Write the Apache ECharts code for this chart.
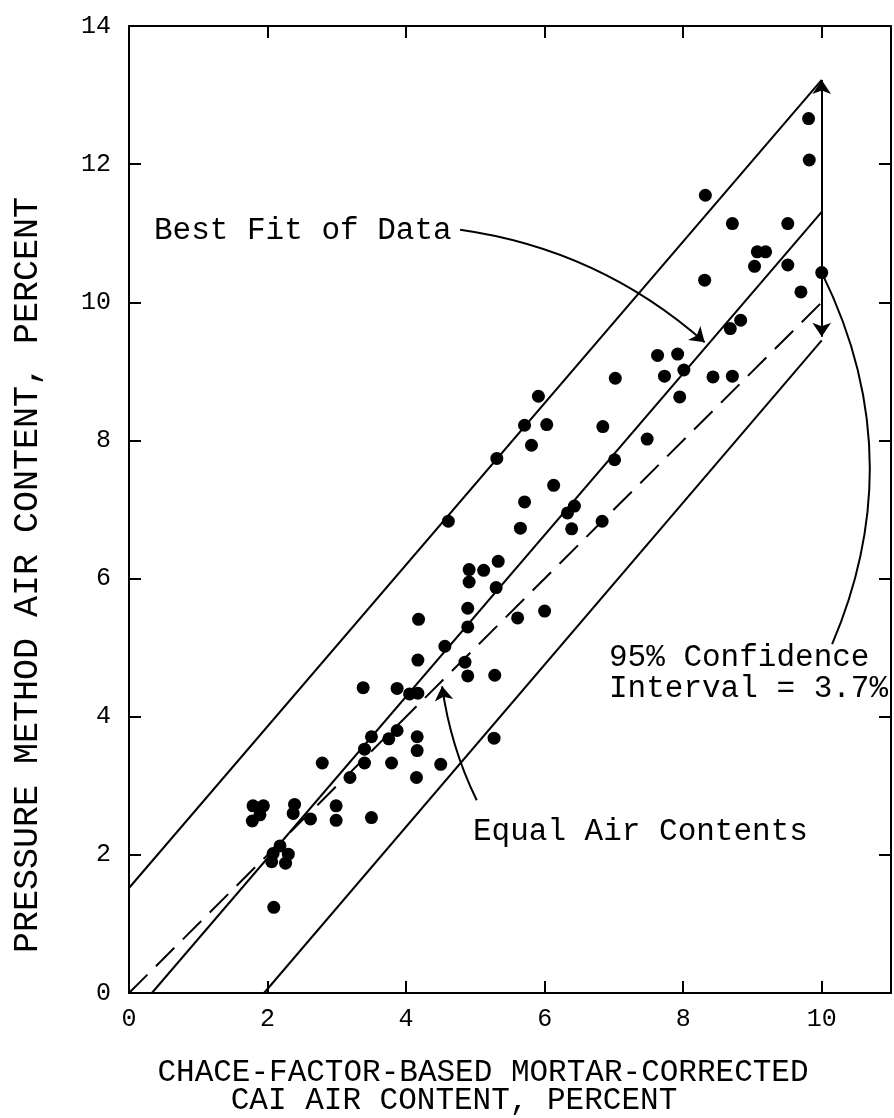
<!DOCTYPE html>
<html>
<head>
<meta charset="utf-8">
<script src="https://cdn.jsdelivr.net/npm/echarts@6/dist/echarts.min.js"></script>
<style>
  html, body { margin: 0; padding: 0; background: #fff; }
  #chart { width: 894px; height: 1118px; }
</style>
</head>
<body>
<div id="chart"></div>
<script>
// CAI air content (x) and pressure method air content (y), percent
const cai = [
  1.79, 1.94, 1.89, 1.78, 2.39, 2.37, 2.62, 2.99, 2.99, 3.50,
  2.18, 2.08, 2.06, 2.30, 2.26, 2.09, 2.79, 3.19, 3.40, 3.79,
  4.15, 3.40, 3.50, 3.75, 3.87, 4.16, 4.16, 3.38, 3.87, 4.05,
  4.17, 4.17, 4.50, 5.27,
  4.18, 4.56, 4.85, 4.89, 5.28, 4.89, 4.89, 4.91, 4.91, 5.12,
  5.33, 5.30, 5.61, 6.00, 4.61, 5.65, 5.71, 6.13, 5.31, 5.81,
  5.71, 6.03, 5.91, 6.33, 6.43, 6.39, 6.83, 6.84, 7.01, 7.02, 7.48,
  7.63, 7.92, 7.73, 8.01, 7.95, 8.43, 8.71, 8.68, 8.83, 8.31,
  8.32, 8.71, 9.03, 9.07, 9.19, 9.51, 9.51, 9.70, 9.81, 9.82, 10.0
]
const pressure = [
  2.71, 2.71, 2.58, 2.49, 2.73, 2.60, 2.52, 2.71, 2.50, 2.54,
  2.13, 2.02, 1.90, 2.01, 1.88, 1.24, 3.33, 3.12, 3.33, 3.33,
  3.12, 3.53, 3.71, 3.68, 3.80, 3.71, 3.51, 4.42, 4.41, 4.33,
  4.34, 4.82, 3.31, 3.69,
  5.41, 5.02, 4.79, 4.59, 4.60, 5.30, 5.57, 5.95, 6.13, 6.12,
  6.25, 5.87, 5.43, 5.53, 6.83, 6.73, 7.11, 7.35, 7.74, 7.93,
  8.22, 8.23, 8.64, 6.95, 7.05, 6.72, 6.83, 8.20, 7.72, 8.90, 8.02,
  9.23, 9.25, 8.93, 9.02, 8.63, 8.92, 8.93, 9.62, 9.74, 10.32,
  11.55, 11.14, 10.52, 10.73, 10.73, 10.54, 11.14, 10.15, 12.66, 12.06, 10.43
]

// straight lines, end points in data units
const upperLimit = [[0, 1.52], [10, 13.22]]
const bestFit = [[0.33, 0], [10, 11.31]]
const lowerLimit = [[1.95, 0], [10, 9.45]]
const equalAir = [[0, 0], [10, 10]]
const intervalArrow = [[10, 9.5], [10, 13.22]]

// annotation arrows (data units)
const bestFitArrow = [[4.78, 11.05], [8.31, 9.42]]
const equalArrow = [[5.02, 2.79], [4.52, 4.44]]
const confidenceArrow = [[10.0, 10.43], [10.15, 5.05]]

const xTicks = [0, 2, 4, 6, 8, 10]
const yTicks = [0, 2, 4, 6, 8, 10, 12, 14]

const mono = "'Liberation Mono', 'DejaVu Sans Mono', monospace"
const chart = echarts.init(document.getElementById('chart'))

const frameLine = { onZero: false, lineStyle: { color: '#000', width: 2 } }
const tick = { inside: true, length: 12, lineStyle: { color: '#000', width: 2 } }

function straight(points, dashed) {
  return {
    type: 'line',
    data: points,
    symbol: 'none',
    silent: true,
    lineStyle: { color: '#000', width: 2, type: dashed ? [26, 12] : 'solid' },
    z: 2
  }
}

function arrow(points, curveness, symbols) {
  return {
    type: 'lines',
    coordinateSystem: 'cartesian2d',
    symbol: symbols,
    symbolSize: 14,
    silent: true,
    lineStyle: { color: '#000', width: 2, curveness: curveness, opacity: 1 },
    data: [{ coords: points }],
    z: 3
  }
}

const option = {
  backgroundColor: '#fff',
  animation: false,
  grid: { left: 129, right: 3, top: 26, bottom: 125 },
  xAxis: [
    {
      type: 'value', min: 0, max: 11, position: 'bottom',
      axisLine: frameLine,
      axisTick: Object.assign({ customValues: xTicks }, tick),
      axisLabel: { customValues: xTicks, color: '#000', fontFamily: mono, fontSize: 25, margin: 14 },
      splitLine: { show: false }
    },
    {
      type: 'value', min: 0, max: 11, position: 'top',
      axisLine: frameLine,
      axisTick: Object.assign({ customValues: xTicks }, tick),
      axisLabel: { show: false },
      splitLine: { show: false }
    }
  ],
  yAxis: [
    {
      type: 'value', min: 0, max: 14, position: 'left',
      axisLine: frameLine,
      axisTick: Object.assign({ customValues: yTicks }, tick),
      axisLabel: { customValues: yTicks, color: '#000', fontFamily: mono, fontSize: 25, margin: 18 },
      splitLine: { show: false }
    },
    {
      type: 'value', min: 0, max: 14, position: 'right',
      axisLine: frameLine,
      axisTick: Object.assign({ customValues: yTicks }, tick),
      axisLabel: { show: false },
      splitLine: { show: false }
    }
  ],
  series: [
    straight(upperLimit),
    straight(bestFit),
    straight(lowerLimit),
    straight(equalAir, true),
    arrow(intervalArrow, 0, ['arrow', 'arrow']),
    arrow(bestFitArrow, 0.15, ['none', 'arrow']),
    arrow(equalArrow, 0.08, ['none', 'arrow']),
    arrow(confidenceArrow, 0.23, ['none', 'none']),
    {
      type: 'scatter',
      data: cai.map((x, i) => [x, pressure[i]]),
      symbol: 'circle',
      symbolSize: 13,
      itemStyle: { color: '#000', opacity: 1 },
      z: 4
    }
  ],
  graphic: [
    { type: 'text', x: 154, y: 231, style: { text: 'Best Fit of Data', font: '31px ' + mono, fill: '#000', verticalAlign: 'middle' } },
    { type: 'text', x: 609, y: 658, style: { text: '95% Confidence', font: '31px ' + mono, fill: '#000', verticalAlign: 'middle' } },
    { type: 'text', x: 609, y: 689, style: { text: 'Interval = 3.7%', font: '31px ' + mono, fill: '#000', verticalAlign: 'middle' } },
    { type: 'text', x: 473, y: 832, style: { text: 'Equal Air Contents', font: '31px ' + mono, fill: '#000', verticalAlign: 'middle' } },
    { type: 'text', x: 483, y: 1073, style: { text: 'CHACE-FACTOR-BASED MORTAR-CORRECTED', font: '31px ' + mono, fill: '#000', align: 'center', verticalAlign: 'middle' } },
    { type: 'text', x: 454, y: 1101, style: { text: 'CAI AIR CONTENT, PERCENT', font: '31px ' + mono, fill: '#000', align: 'center', verticalAlign: 'middle' } },
    { type: 'text', x: 28, y: 575, rotation: Math.PI / 2, style: { text: 'PRESSURE METHOD AIR CONTENT, PERCENT', font: '35px ' + mono, fill: '#000', align: 'center', verticalAlign: 'middle' } }
  ]
}

chart.setOption(option)
</script>
</body>
</html>
